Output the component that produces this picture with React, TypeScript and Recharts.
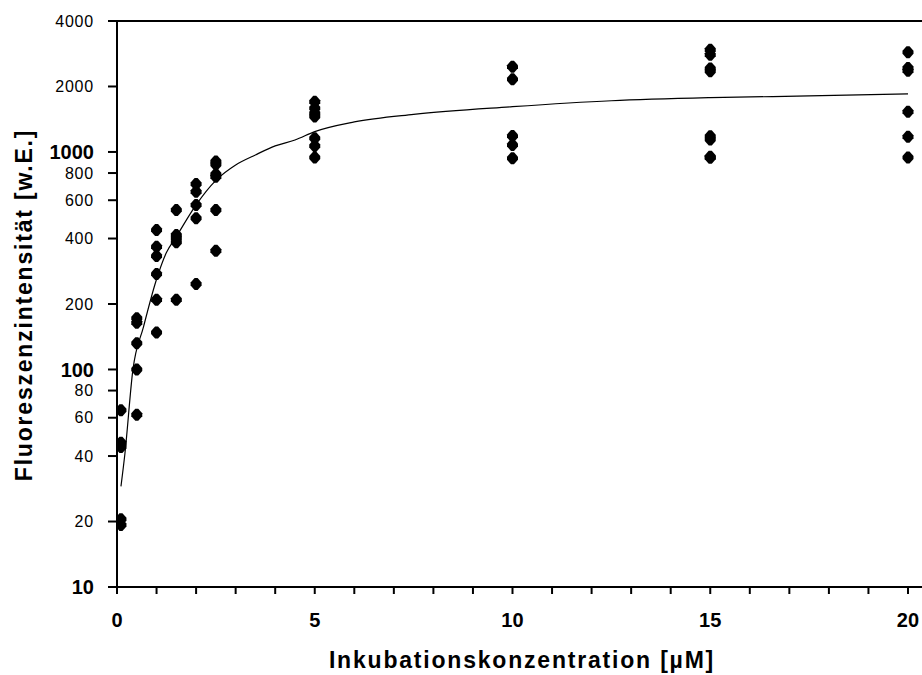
import React from 'react';
import { ComposedChart, Scatter, Line, XAxis, YAxis, Label, ReferenceLine } from 'recharts';

// incubation concentrations (µM) and the measured intensities per concentration
const concentrations = [0.1, 0.5, 1, 1.5, 2, 2.5, 5, 10, 15, 20];
const intensities = [
  [65, 46, 44, 20.5, 19.3],
  [172, 164, 132, 100, 62],
  [438, 367, 332, 275, 209, 148],
  [541, 415, 400, 385, 209],
  [713, 657, 571, 496, 247],
  [905, 875, 790, 770, 541, 351],
  [1703, 1588, 1507, 1454, 1156, 1066, 942],
  [2467, 2159, 1185, 1077, 935],
  [2950, 2800, 2420, 2350, 1180, 1140, 950, 940],
  [2873, 2430, 2365, 1532, 1176, 942],
];

// fitted curve
const fitX = [0.1, 0.2, 0.4, 0.67, 1, 1.25, 1.5, 2, 2.5, 3, 3.5, 4, 4.5, 5, 6, 7.5, 10, 12.5, 15, 17.5, 20];
const fitY = [29, 41, 99, 157, 260, 345, 408, 571, 740, 871, 969, 1066, 1135, 1240, 1374, 1490, 1615, 1720, 1777, 1809, 1848];

const xTicks = [0, 1, 2, 3, 4, 5, 6, 7, 8, 9, 10, 11, 12, 13, 14, 15, 16, 17, 18, 19, 20];
const xLabels = [0, 5, 10, 15, 20];
const yTicks = [10, 20, 40, 60, 80, 100, 200, 400, 600, 800, 1000, 2000, 4000];
const yBold = [10, 100, 1000];

const points = concentrations.flatMap((c, i) => intensities[i].map(v => ({ x: c, y: v })));
const fitData = fitX.map((x, i) => ({ x, y: fitY[i] }));

const FONT = '"Liberation Sans", Arial, sans-serif';

const Marker = (props: any) => {
  const { cx, cy } = props;
  if (cx == null || cy == null) return null;
  const pts = [
    [cx - 1.5, cy - 6], [cx + 1.5, cy - 6], [cx + 5.5, cy - 1.5], [cx + 5.5, cy + 1.5],
    [cx + 1.5, cy + 6], [cx - 1.5, cy + 6], [cx - 5.5, cy + 1.5], [cx - 5.5, cy - 1.5],
  ].map(p => p.join(',')).join(' ');
  return <polygon points={pts} fill="#000" />;
};

const XTick = (props: any) => {
  const { x, y, payload } = props;
  if (!xLabels.includes(payload.value)) return null;
  return (
    <text x={x} y={y + 31} textAnchor="middle" fontFamily={FONT} fontWeight="bold" fontSize={20} fill="#000">
      {payload.value}
    </text>
  );
};

const YTick = (props: any) => {
  const { x, y, payload } = props;
  const bold = yBold.includes(payload.value);
  return (
    <text
      x={x}
      y={y}
      dy="0.36em"
      textAnchor="end"
      fontFamily={FONT}
      fontWeight={bold ? 'bold' : 'normal'}
      fontSize={bold ? 20 : 16}
      letterSpacing={bold ? 0 : 0.8}
      fill="#000"
    >
      {payload.value}
    </text>
  );
};

const App = () => {
  return (
    <div style={{ position: 'absolute', left: 0, top: 0, width: 922, height: 675, background: '#fff' }}>
      <ComposedChart width={922} height={675} margin={{ top: 21, right: 0, left: 0, bottom: 0 }}>
        <XAxis
          type="number"
          dataKey="x"
          domain={[0, 20.354]}
          ticks={xTicks}
          interval={0}
          allowDataOverflow
          height={88}
          tickSize={7}
          tickMargin={2}
          tick={<XTick />}
          stroke="#000"
          axisLine={{ stroke: '#000', strokeWidth: 2 }}
          tickLine={{ stroke: '#000', strokeWidth: 2 }}
        >
          <Label
            content={() => (
              <text x={522} y={668} textAnchor="middle" fontFamily={FONT} fontWeight="bold" fontSize={23} letterSpacing={1.8} fill="#000">
                Inkubationskonzentration [µM]
              </text>
            )}
          />
        </XAxis>
        <YAxis
          type="number"
          dataKey="y"
          scale="log"
          domain={[10, 4000]}
          ticks={yTicks}
          interval={0}
          allowDataOverflow
          width={117}
          tickSize={9}
          tickMargin={14}
          tick={<YTick />}
          stroke="#000"
          axisLine={{ stroke: '#000', strokeWidth: 2 }}
          tickLine={{ stroke: '#000', strokeWidth: 2 }}
        >
          <Label
            content={() => (
              <text
                x={32}
                y={305}
                transform="rotate(-90 32 305)"
                textAnchor="middle"
                fontFamily={FONT}
                fontWeight="bold"
                fontSize={23}
                letterSpacing={1.8}
                fill="#000"
              >
                Fluoreszenzintensität [w.E.]
              </text>
            )}
          />
        </YAxis>
        <ReferenceLine y={4000} stroke="#000" strokeWidth={2} />
        <Line
          data={fitData}
          dataKey="y"
          type="monotone"
          stroke="#000"
          strokeWidth={1.2}
          dot={false}
          activeDot={false}
          isAnimationActive={false}
        />
        <Scatter data={points} dataKey="y" fill="#000" shape={<Marker />} isAnimationActive={false} />
      </ComposedChart>
    </div>
  );
};

export default App;
